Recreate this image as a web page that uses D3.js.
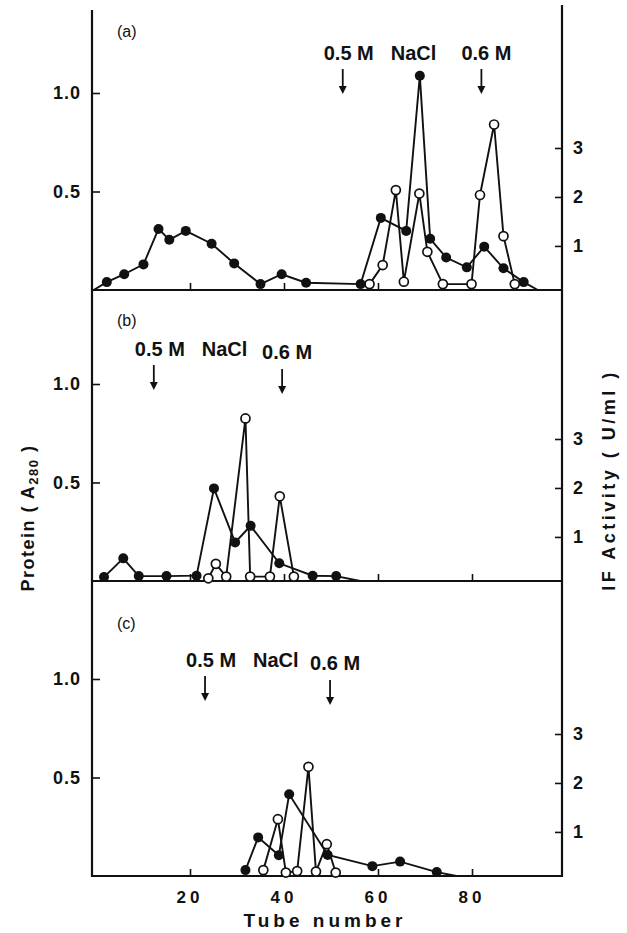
<!DOCTYPE html>
<html>
<head>
<meta charset="utf-8">
<script src="https://cdn.jsdelivr.net/npm/d3@7"></script>
<style>
  body { margin: 0; background: #fff; }
  text { font-family: "Liberation Sans", Arial, sans-serif; fill: #111; }
</style>
</head>
<body>
<script>
// tick values
var tubeTicks = [20, 40, 60, 80];
var proteinTicks = [0.5, 1.0];
var activityTicks = [1, 2, 3];
var panelLabels = ["(a)", "(b)", "(c)"];

// [tube, A280] filled circles ; [tube, U/ml] open circles
var proteinA = [[-0.5, 0], [2.3, 0.04], [6.0, 0.08], [10.1, 0.13], [13.3, 0.31], [15.6, 0.255],
  [19.1, 0.30], [24.6, 0.235], [29.4, 0.135], [35.0, 0.03], [39.5, 0.08], [44.7, 0.037],
  [56.3, 0.03], [60.6, 0.366], [66.0, 0.30], [68.9, 1.088], [71.1, 0.26], [74.5, 0.165],
  [78.9, 0.115], [82.6, 0.22], [86.7, 0.11], [91.0, 0.04], [94.0, 0]];
var activityA = [[58.2, 0.22], [61.0, 0.61], [63.8, 2.14], [65.5, 0.27], [68.8, 2.07],
  [70.5, 0.88], [73.8, 0.22], [79.9, 0.22], [81.7, 2.04], [84.7, 3.48], [86.7, 1.20], [89.1, 0.22]];

var proteinB = [[1.7, 0.02], [5.8, 0.115], [9.1, 0.025], [15.0, 0.025], [21.4, 0.027],
  [25.1, 0.47], [29.6, 0.196], [32.9, 0.28], [39.0, 0.09], [46.1, 0.027], [51.1, 0.025], [56.2, 0]];
var activityB = [[23.9, 0.155], [25.5, 0.45], [27.7, 0.19], [31.8, 3.42], [32.8, 0.19],
  [37.0, 0.19], [39.1, 1.83], [42.1, 0.19]];

var proteinC = [[31.8, 0.03], [34.5, 0.196], [38.9, 0.105], [41.1, 0.415], [49.3, 0.107],
  [58.8, 0.05], [64.7, 0.073], [72.5, 0.02], [76.7, 0]];
var activityC = [[35.6, 0.22], [38.7, 1.26], [40.4, 0.17], [42.8, 0.2], [45.2, 2.33],
  [46.8, 0.19], [49.1, 0.75], [51.0, 0.17]];

// tube where 0.5 M and 0.6 M NaCl starts
var saltA = [52.5, 82.0];
var saltB = [12.3, 39.6];
var saltC = [23.2, 49.8];

var width = 627, height = 933;
var left = 92, right = 562;

var svg = d3.select("body").append("svg")
    .attr("width", width)
    .attr("height", height);

var x = d3.scaleLinear().domain([20, 80]).range([190, 472]);

var panels = [
  {label: panelLabels[0], base: 290, protein: proteinA, activity: activityA, salt: saltA, textY: 60, labelY: 37},
  {label: panelLabels[1], base: 581, protein: proteinB, activity: activityB, salt: saltB, textY: 356, labelY: 326},
  {label: panelLabels[2], base: 876, protein: proteinC, activity: activityC, salt: saltC, textY: 667, labelY: 629}
];

// main axis lines
svg.append("line").attr("x1", left).attr("x2", left).attr("y1", 10).attr("y2", 877)
    .attr("stroke", "#111").attr("stroke-width", 2.2);
svg.append("line").attr("x1", right).attr("x2", right).attr("y1", 5).attr("y2", 877)
    .attr("stroke", "#111").attr("stroke-width", 2.2);

panels.forEach(function(p, i) {
    var y = d3.scaleLinear().domain([0, 1]).range([p.base, p.base - 197]);
    var yR = d3.scaleLinear().domain([0.1, 3]).range([p.base, p.base - 142]);

    // baseline
    svg.append("line").attr("x1", left).attr("x2", right).attr("y1", p.base).attr("y2", p.base)
        .attr("stroke", "#111").attr("stroke-width", 2);

    // x ticks
    var gx = svg.append("g")
        .attr("transform", "translate(0," + p.base + ")")
        .call(d3.axisBottom(x).tickValues(tubeTicks).tickSize(-7).tickSizeOuter(0)
            .tickFormat(function() { return ""; }));
    gx.select(".domain").remove();
    gx.selectAll("line").attr("stroke", "#111").attr("stroke-width", 1.6);

    // left axis
    var gl = svg.append("g")
        .attr("transform", "translate(" + left + ",0)")
        .call(d3.axisLeft(y).tickValues(proteinTicks).tickSize(-8).tickSizeOuter(0)
            .tickPadding(11).tickFormat(d3.format(".1f")));
    gl.select(".domain").remove();
    gl.selectAll("line").attr("stroke", "#111").attr("stroke-width", 1.6);
    gl.selectAll("text").attr("font-size", 18).attr("font-weight", "bold").attr("fill", "#111")
        .attr("letter-spacing", 1)
        .style("font-family", "'Liberation Sans', Arial, sans-serif");

    // right axis
    var gr = svg.append("g")
        .attr("transform", "translate(" + right + ",0)")
        .call(d3.axisRight(yR).tickValues(activityTicks).tickSize(-7).tickSizeOuter(0)
            .tickPadding(11).tickFormat(d3.format("d")));
    gr.select(".domain").remove();
    gr.selectAll("line").attr("stroke", "#111").attr("stroke-width", 1.6);
    gr.selectAll("text").attr("font-size", 18).attr("font-weight", "bold").attr("fill", "#111")
        .style("font-family", "'Liberation Sans', Arial, sans-serif");

    // panel label
    svg.append("text").attr("x", 117).attr("y", p.labelY)
        .attr("font-size", 16).text(p.label);

    // NaCl annotation
    var a1 = x(p.salt[0]), a2 = x(p.salt[1]);
    svg.append("text").attr("x", a1 - 19).attr("y", p.textY)
        .attr("font-size", 20).attr("font-weight", "bold").text("0.5 M");
    svg.append("text").attr("x", a1 + 48).attr("y", p.textY)
        .attr("font-size", 20).attr("font-weight", "bold").text("NaCl");
    svg.append("text").attr("x", a2 - 20).attr("y", p.textY + (i == 0 ? 0 : 3))
        .attr("font-size", 20).attr("font-weight", "bold").text("0.6 M");

    [a1, a2].forEach(function(ax, k) {
        var y0 = p.textY + 9 + (k == 1 && i > 0 ? 4 : 0), y1 = y0 + 25;
        svg.append("line").attr("x1", ax).attr("x2", ax).attr("y1", y0).attr("y2", y1 - 5)
            .attr("stroke", "#111").attr("stroke-width", 1.8);
        svg.append("path")
            .attr("d", "M" + (ax - 4) + "," + (y1 - 8) + "L" + (ax + 4) + "," + (y1 - 8) + "L" + ax + "," + y1 + "Z")
            .attr("fill", "#111");
    });

    var lineP = d3.line().x(function(d) { return x(d[0]); }).y(function(d) { return y(d[1]); });
    var lineA = d3.line().x(function(d) { return x(d[0]); }).y(function(d) { return yR(d[1]); });

    svg.append("path").datum(p.protein).attr("d", lineP)
        .attr("fill", "none").attr("stroke", "#111").attr("stroke-width", 1.9);
    svg.append("path").datum(p.activity).attr("d", lineA)
        .attr("fill", "none").attr("stroke", "#111").attr("stroke-width", 1.9);

    svg.append("g").selectAll("circle")
        .data(p.protein.filter(function(d) { return d[1] > 0; }))
        .join("circle")
        .attr("cx", function(d) { return x(d[0]); })
        .attr("cy", function(d) { return y(d[1]); })
        .attr("r", 5)
        .attr("fill", "#111");

    svg.append("g").selectAll("circle")
        .data(p.activity)
        .join("circle")
        .attr("cx", function(d) { return x(d[0]); })
        .attr("cy", function(d) { return yR(d[1]); })
        .attr("r", 4.5)
        .attr("fill", "#fff")
        .attr("stroke", "#111")
        .attr("stroke-width", 1.7);
});

// tube number labels under the last panel
svg.append("g").selectAll("text")
    .data(tubeTicks)
    .join("text")
    .attr("x", function(d) { return x(d); })
    .attr("y", 903)
    .attr("text-anchor", "middle")
    .attr("font-size", 17).attr("font-weight", "bold").attr("letter-spacing", 4)
    .text(function(d) { return d; });

// axis titles
var pt = svg.append("text")
    .attr("transform", "translate(34,518) rotate(-90)")
    .attr("text-anchor", "middle")
    .attr("font-size", 18).attr("font-weight", "bold").attr("letter-spacing", 1.5);
pt.append("tspan").text("Protein ( A");
pt.append("tspan").attr("font-size", 13).attr("dy", 4).text("280");
pt.append("tspan").attr("dy", -4).text(" )");

svg.append("text")
    .attr("transform", "translate(615,480) rotate(-90)")
    .attr("text-anchor", "middle")
    .attr("font-size", 18).attr("font-weight", "bold").attr("letter-spacing", 3.5)
    .text("IF Activity ( U/ml )");

svg.append("text")
    .attr("x", 325).attr("y", 927)
    .attr("text-anchor", "middle")
    .attr("font-size", 19).attr("font-weight", "bold").attr("letter-spacing", 4)
    .text("Tube number");
</script>
</body>
</html>
